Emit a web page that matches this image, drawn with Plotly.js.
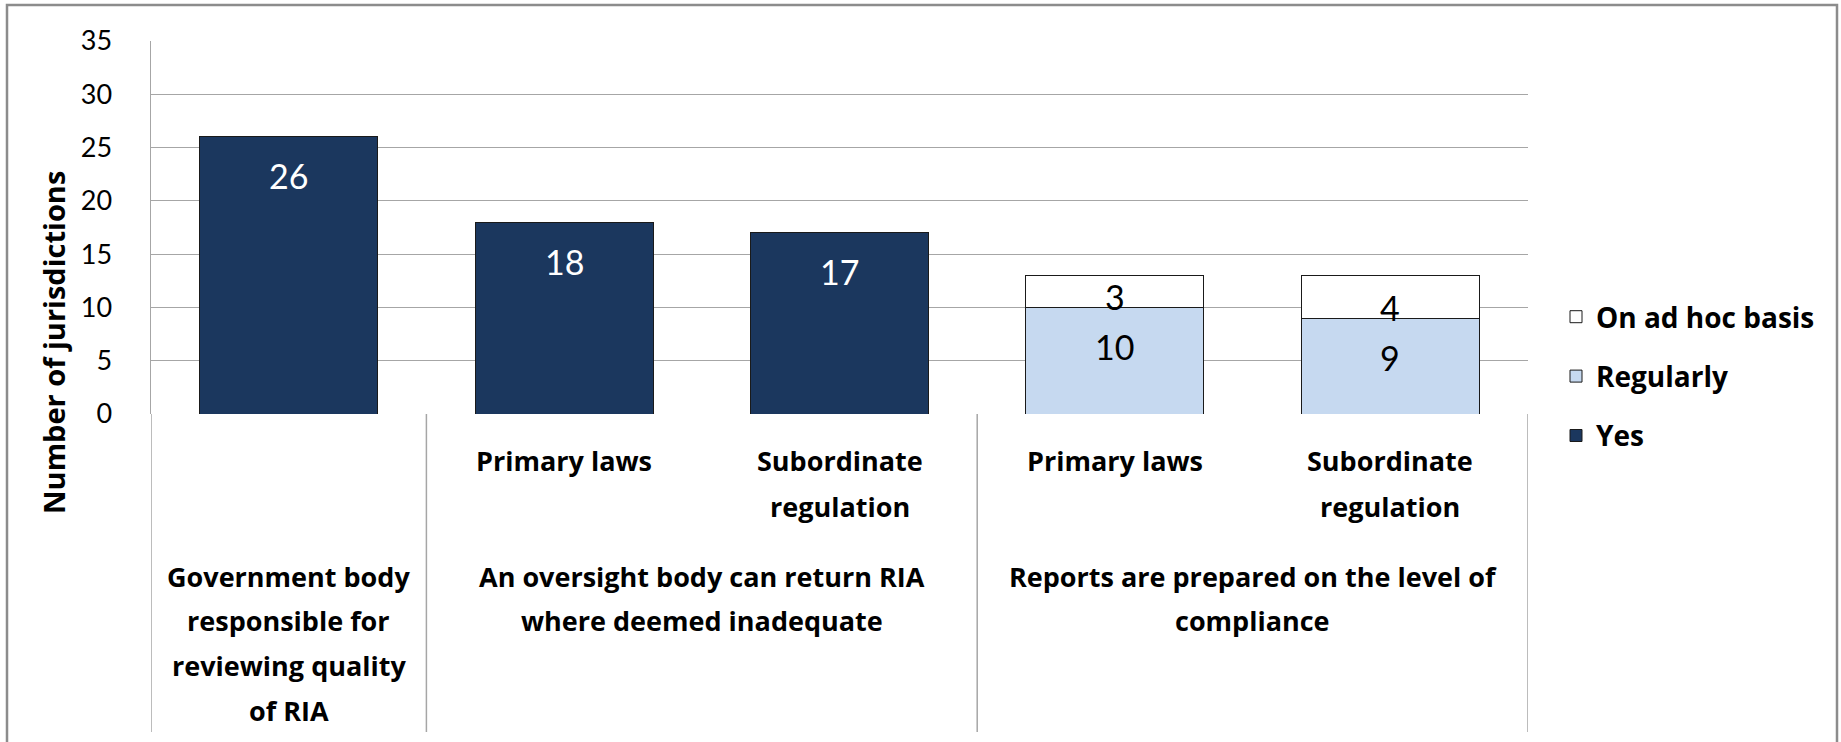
<!DOCTYPE html>
<html>
<head>
<meta charset="utf-8">
<script src="https://cdn.plot.ly/plotly-3.0.1.min.js"></script>
<style>html,body{margin:0;padding:0;background:#fff;}#chart{width:1841px;height:742px;}</style>
</head>
<body>
<div id="chart"></div>
<script>
// ---- data ----
const positions = [0, 1, 2, 3, 4];
const subLabels = ["", "Primary laws", "Subordinate\nregulation", "Primary laws", "Subordinate\nregulation"];
const groupLabels = [
  "Government body\nresponsible for\nreviewing quality\nof RIA",
  "An oversight body can return RIA\nwhere deemed inadequate",
  "Reports are prepared on the level of\ncompliance"
];
const groupFirst = [0, 1, 3];
const groupLast = [0, 2, 4];
const seriesNames = ["Yes", "Regularly", "On ad hoc basis"];
const yesValues = [26, 18, 17, null, null];
const regularlyValues = [null, null, null, 10, 9];
const adHocValues = [null, null, null, 3, 4];
const yTicks = [0, 5, 10, 15, 20, 25, 30, 35];
const yTitle = "Number of jurisdictions";

// ---- style ----
const NUMFONT = "Lato, 'Open Sans', sans-serif";
const TXTFONT = "'Open Sans', 'Noto Sans', sans-serif";
const colors = ["#1B375E", "#C6D9F0", "#FFFFFF"];
const labelColors = ["#FFFFFF", "#000000", "#000000"];
const plotTop = 41, plotBottom = 414, plotLeft = 151, plotRight = 1528;
const yMax = 35;
const pxPerUnit = (plotBottom - plotTop) / yMax;
const pyPaper = px => (plotBottom - px) / (plotBottom - plotTop);
const pxPaper = px => (px - plotLeft) / (plotRight - plotLeft);

const seriesValues = [yesValues, regularlyValues, adHocValues];
const traces = seriesValues.map((vals, k) => ({
  type: "bar",
  name: seriesNames[k],
  legendgroup: seriesNames[k],
  legendrank: 1000 - k,
  x: positions,
  y: vals,
  width: 0.646,
  marker: {color: colors[k], line: {color: "#1a1a1a", width: 1}},
  hoverinfo: "name+y"
}));

const annotations = [];
// data labels (inside end)
const cum = positions.map(() => 0);
seriesValues.forEach((vals, k) => {
  vals.forEach((v, i) => {
    if (v === null) return;
    cum[i] += v;
    const segPx = v * pxPerUnit;
    annotations.push({
      x: positions[i], y: cum[i], xref: "x", yref: "y",
      text: String(v), showarrow: false, xanchor: "center", yanchor: "middle",
      yshift: -Math.min(39, segPx - 11),
      font: {family: NUMFONT, size: 34, color: labelColors[k]}
    });
  });
});
// sub labels
const LINE = 46;
subLabels.forEach((lab, i) => {
  lab.split("\n").forEach((line, j) => {
    if (!line) return;
    annotations.push({
      x: positions[i], xref: "x", y: pyPaper(460 + j * LINE), yref: "paper",
      text: line, showarrow: false, xanchor: "center", yanchor: "middle",
      font: {family: TXTFONT, size: 27, color: "#000", weight: "bold"}
    });
  });
});
// group labels
groupLabels.forEach((lab, g) => {
  const xc = (positions[groupFirst[g]] + positions[groupLast[g]]) / 2;
  lab.split("\n").forEach((line, j) => {
    annotations.push({
      x: xc, xref: "x", y: pyPaper(576 + j * 44.7), yref: "paper",
      text: line, showarrow: false, xanchor: "center", yanchor: "middle",
      font: {family: TXTFONT, size: 27, color: "#000", weight: "bold"}
    });
  });
});
// y title
annotations.push({
  x: pxPaper(53), xref: "paper", y: pyPaper(343), yref: "paper",
  xanchor: "center", yanchor: "middle",
  text: yTitle, textangle: -90, showarrow: false,
  font: {family: TXTFONT, size: 29, color: "#000", weight: "bold"}
});

// shapes: dividers and frame
const shapes = [];
const divBottom = pyPaper(732);
[positions[0] - 0.5].concat(groupLast.map(i => positions[i] + 0.5)).forEach(xv => {
  shapes.push({type: "line", xref: "x", yref: "paper", x0: xv, x1: xv, y0: divBottom, y1: 0,
    line: {color: "#A6A6A6", width: 1.5}});
});
shapes.push({type: "rect", xref: "paper", yref: "paper",
  x0: pxPaper(7), x1: pxPaper(1837), y0: pyPaper(748), y1: pyPaper(5),
  line: {color: "#8C8C8C", width: 2.5}, fillcolor: "rgba(0,0,0,0)"});

const layout = {
  width: 1841, height: 742,
  margin: {l: plotLeft, r: 1841 - plotRight, t: plotTop, b: 742 - plotBottom},
  paper_bgcolor: "#fff", plot_bgcolor: "#fff",
  barmode: "stack",
  font: {family: TXTFONT, color: "#000"},
  xaxis: {range: [-0.5, 4.5], showticklabels: false, showgrid: false, zeroline: false,
    showline: false, fixedrange: true},
  yaxis: {range: [0, yMax], tickvals: yTicks, ticktext: yTicks.map(String),
    showgrid: true, gridcolor: "#A6A6A6", gridwidth: 1.2, zeroline: false,
    showline: true, linecolor: "#A6A6A6", linewidth: 1.5,
    ticks: "", ticklabelstandoff: 32,
    tickfont: {family: NUMFONT, size: 27, color: "#000"}},
  showlegend: true,
  legend: {x: pxPaper(1556), xanchor: "left", y: pyPaper(292), yanchor: "top",
    traceorder: "grouped", tracegroupgap: 20,
    font: {family: TXTFONT, size: 28, color: "#000", weight: "bold"},
    bgcolor: "rgba(0,0,0,0)"},
  annotations: annotations,
  shapes: shapes
};

Plotly.newPlot("chart", traces, layout, {displayModeBar: false, staticPlot: true});
</script>
</body>
</html>
